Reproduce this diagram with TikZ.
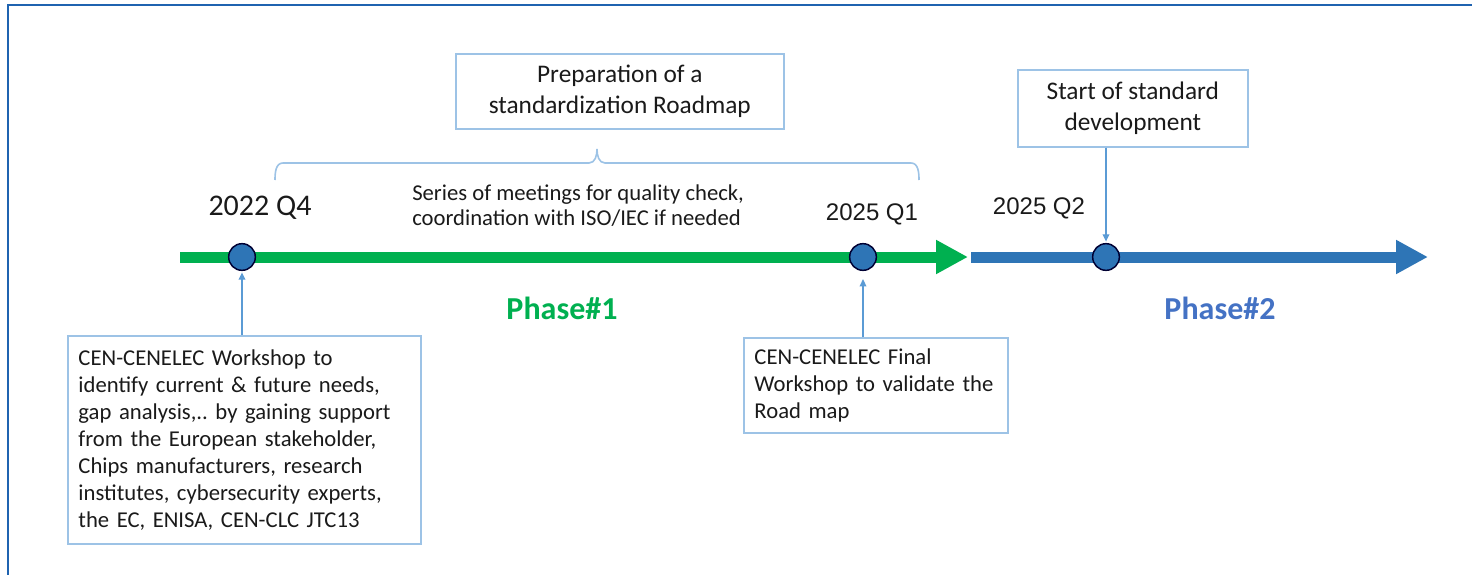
\documentclass[tikz,border=0pt]{standalone}
\usepackage{fontspec}
\setmainfont{Carlito}
\newfontfamily\datefont{Liberation Sans}
\usetikzlibrary{arrows.meta}
\frenchspacing
\definecolor{phasegreen}{HTML}{00B050}
\definecolor{phaseblue}{HTML}{2E75B6}
\definecolor{phasetwo}{HTML}{4472C4}
\definecolor{boxline}{HTML}{9DC3E6}
\definecolor{connline}{HTML}{5B9BD5}
\definecolor{frameblue}{HTML}{1F63B0}
\definecolor{textgray}{HTML}{1A1A1A}
\tikzset{
  infobox/.style={draw=boxline, line width=1.2pt, fill=white, rectangle, text=textgray},
  milestone/.style={draw=black!80!blue, line width=1.1pt, fill=phaseblue, circle, minimum size=20pt, inner sep=0pt},
  timeline/.style={line width=8.25pt, -{Triangle[length=24pt, width=24pt]}},
  conn/.style={draw=connline, line width=1pt, -{Triangle[length=5.5pt, width=5pt]}, fill=connline},
  datelabel/.style={text=textgray, inner sep=0pt}
}
\begin{document}
\begin{tikzpicture}[x=0.75pt, y=-0.75pt]
  \useasboundingbox (0,0) rectangle (1472,575);
  \draw[frameblue, line width=1.9pt] (8,575) -- (8,5) -- (1472,5);

  \draw[timeline, phasegreen] (180,257) -- (968,257);
  \draw[timeline, phaseblue] (971,257) -- (1428,257);

  \node (start) [milestone] at (242,257) {};
  \node (final) [milestone] at (863,257) {};
  \node (develop) [milestone] at (1106,257) {};

  \node (q4) [datelabel, font=\fontsize{22.5}{27}\selectfont] at (260,208) {2022 Q4};
  \node (q1) [datelabel, font=\datefont\fontsize{18}{22}\selectfont] at (872,214) {2025 Q1};
  \node (q2) [datelabel, font=\datefont\fontsize{18}{22}\selectfont] at (1039,208) {2025 Q2};

  \node (phaseone) [text=phasegreen, font=\bfseries\fontsize{24}{28}\selectfont] at (562,308) {Phase\#1};
  \node (phasetwo) [text=phasetwo, font=\bfseries\fontsize{24}{28}\selectfont] at (1220,308) {Phase\#2};

  \node (roadmap) [infobox, anchor=north west, minimum width=246pt, minimum height=56.25pt, align=center,
    font=\fontsize{19}{23.25}\selectfont] at (455,53) {Preparation of a\\standardization Roadmap};
  \draw[boxline, line width=1.2pt] (275,180) to[out=90, in=180] (283,163) -- (589,163)
    to[out=0, in=-90] (597,149) to[out=-90, in=180] (605,163) -- (911,163) to[out=0, in=90] (919,180);
  \node (meetings) [text=textgray, anchor=west, inner sep=0pt, align=left,
    font=\fontsize{17}{18.75}\selectfont] at (412,206) {Series of meetings for quality check,\\coordination with ISO/IEC if needed};

  \node (standard) [infobox, anchor=north west, minimum width=172.5pt, minimum height=57.75pt, align=center,
    font=\fontsize{19}{23.25}\selectfont] at (1017,69) {Start of standard\\development};

  \node (kickoff) [infobox, anchor=north west, text width=248.75pt, inner xsep=8pt, minimum height=156pt, align=left,
    font=\fontsize{17}{20.25}\selectfont] at (67,335) {CEN-CENELEC Workshop to\\identify current \& future needs,\\gap analysis,.. by gaining support\\from the European stakeholder,\\Chips manufacturers, research\\institutes, cybersecurity experts,\\the EC, ENISA, CEN-CLC JTC13};
  \node (validate) [infobox, anchor=north west, text width=182pt, inner xsep=8pt, minimum height=71.25pt, align=left,
    font=\fontsize{17}{20.25}\selectfont] at (743,337) {CEN-CENELEC Final\\Workshop to validate the\\Road map};

  \draw[conn] (kickoff.north -| start) -- ([yshift=-1pt]start.south);
  \draw[conn] (validate.north -| final) -- ([yshift=-6pt]final.south);
  \draw[conn] (standard.south -| develop) -- ([yshift=1pt]develop.north);
\end{tikzpicture}
\end{document}
